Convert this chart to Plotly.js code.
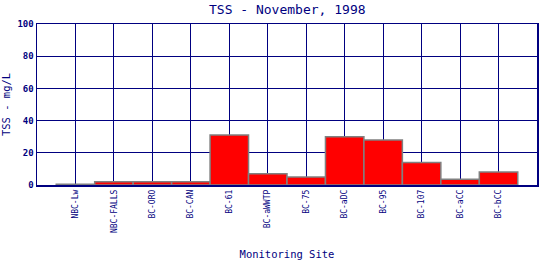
<!DOCTYPE html>
<html>
<head>
<meta charset="utf-8">
<script src="https://cdn.plot.ly/plotly-3.0.1.min.js"></script>
<style>html,body{margin:0;padding:0;background:#fff;}#chart{width:540px;height:260px;}</style>
</head>
<body>
<div id="chart"></div>
<script>
const sites = ["NBC-Lw","NBC-FALLS","BC-ORO","BC-CAN","BC-61","BC-aWWTP","BC-75","BC-aDC","BC-95","BC-107","BC-aCC","BC-bCC"];
const tss = [0.5, 2, 2, 2, 31, 7, 5, 30, 28, 14, 3.5, 8];
const titleText = "TSS - November, 1998";
const xTitle = "Monitoring Site";
const yTitle = "TSS - mg/L";

const navy = "#000080";
const mono = "DejaVu Sans Mono, Liberation Mono, monospace";

Plotly.newPlot("chart", [{
  type: "bar",
  x: sites,
  y: tss,
  width: 1,
  marker: {color: "#ff0000", line: {color: "#808080", width: 1.5}},
  hoverinfo: "none"
}], {
  width: 540, height: 260,
  margin: {l: 37, r: 3, t: 24, b: 75},
  paper_bgcolor: "#ffffff", plot_bgcolor: "#ffffff",
  showlegend: false,
  bargap: 0,
  title: {text: titleText, font: {family: mono, size: 13, color: navy}, x: 0.532, xanchor: "center", y: 0.962, yanchor: "middle"},
  xaxis: {
    type: "category", range: [-1, 12],
    showgrid: true, gridcolor: navy, gridwidth: 1,
    showline: true, linecolor: navy, linewidth: 1.5, mirror: true,
    ticks: "", tickangle: -90,
    tickfont: {family: mono, size: 8, color: navy},
    title: {text: xTitle, font: {family: mono, size: 10.5, color: navy}, standoff: 20},
    zeroline: false, fixedrange: true
  },
  yaxis: {
    range: [0, 100], dtick: 20,
    showgrid: true, gridcolor: navy, gridwidth: 1,
    showline: true, linecolor: navy, linewidth: 1.5, mirror: true,
    ticks: "", 
    tickfont: {family: mono, size: 9, color: navy, weight: "bold"},
    title: {text: yTitle, font: {family: mono, size: 10.5, color: navy}, standoff: 6},
    zeroline: false, fixedrange: true
  }
}, {staticPlot: true, displayModeBar: false});
</script>
</body>
</html>
